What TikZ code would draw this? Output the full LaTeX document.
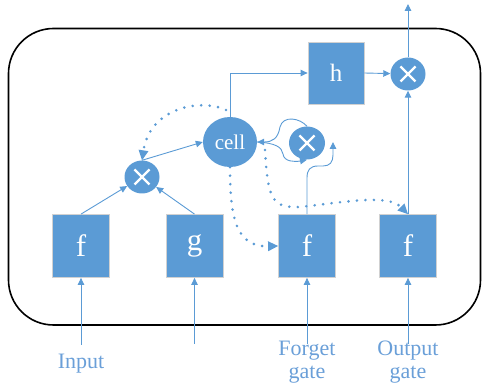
\documentclass[tikz,border=0pt]{standalone}
\usepackage{fontspec}
\setmainfont{Liberation Serif}
\usetikzlibrary{arrows.meta,shapes.geometric}
\definecolor{lblue}{HTML}{5B9BD5}
\definecolor{tblue}{HTML}{6A9FD8}
\begin{document}
\begin{tikzpicture}[x=1pt,y=-1pt,
  gatebox/.style={rectangle,fill=lblue,draw=black!18,line width=0.8pt,minimum width=57pt,minimum height=63pt,inner sep=0pt,text=white,font=\fontsize{31}{31}\selectfont},
  mult/.style={ellipse,fill=lblue,minimum width=35pt,minimum height=33pt,inner sep=0pt,
    path picture={\draw[white,line width=2.2pt] (path picture bounding box.center) ++(-7.5pt,-7.5pt) -- ++(15pt,15pt) (path picture bounding box.center) ++(-7.5pt,7.5pt) -- ++(15pt,-15pt);}},
  cellnode/.style={ellipse,fill=lblue,minimum width=54pt,minimum height=50pt,inner sep=0pt,text=white,font=\fontsize{21}{21}\selectfont},
  conn/.style={draw=lblue,line width=0.9pt,-{Triangle[length=7pt,width=6.5pt]}},
  dotc/.style={draw=lblue,line width=2.9pt,line cap=round,dash pattern=on 0pt off 8.5pt,-{Triangle[length=10pt,width=10pt,line width=0pt]}},
  lbl/.style={text=tblue,font=\fontsize{22}{23}\selectfont,align=center,inner sep=0pt,anchor=north}
]
\useasboundingbox (0,0) rectangle (483,387);
\draw[line width=1.6pt,rounded corners=45pt] (8.5,28.5) rectangle (480.5,325);

% boxes
\node[gatebox] (f1) at (81,246) {f};
\node[gatebox] (g) at (194.5,246) {g};
\node[gatebox] (ff) at (307,246) {f};
\node[gatebox] (fo) at (408,246) {f};
\node[gatebox,minimum width=56pt,minimum height=62pt,font=\fontsize{25}{25}\selectfont] (h) at (336,73) {h};
\node[mult] (m1) at (142,177) {};
\node[mult,minimum width=36pt] (m2) at (307,143) {};
\node[mult] (m3) at (408,74) {};
\node[cellnode] (cell) at (230,142) {cell};

% inputs
\coordinate (i1) at (81,345);
\coordinate (i2) at (194.5,344);
\coordinate (i3) at (307,344);
\coordinate (i4) at (408,344);
\coordinate (top) at (408,4);
\draw[conn] (i1) -- (f1);
\draw[conn] (i2) -- (g);
\draw[conn] (i3) -- (ff);
\draw[conn] (i4) -- (fo);
\node[lbl] (linput) at (81,354) {Input};
\node[lbl] (lforget) at (307,341) {Forget\\gate};
\node[lbl] (loutput) at (408,341) {Output\\gate};

% solid connectors
\draw[conn] (f1.north) -- (m1);
\draw[conn] (g.north) -- (m1);
\draw[conn] (m1.north) -- (cell.west);
\draw[conn] (cell.north) |- (h.west);
\draw[conn] (h.east) -- (m3);
\draw[conn] (m3.north) -- (top);
\draw[conn] (fo.north) -- (m3.south);
\draw[conn] (m2.north) .. controls (300,118) and (283,115) .. (280,127) .. controls (278,139) and (272,142) .. (cell.east);
\draw[conn] (cell.east) .. controls (275,143) and (282,147) .. (283,154) .. controls (284,162) and (295,162) .. (m2.south);
\coordinate (fgend) at (333,142);
\draw[conn] (ff.north) -- (307,178) .. controls (307,170) and (310,166) .. (318,166) -- (323,166) .. controls (330,166) and (333,162) .. (333,155) -- (fgend);

% dotted connectors
\coordinate (ca) at (226,110);
\coordinate (cc) at (265,150);
\draw[dotc] (ca) .. controls (200,98) and (150,108) .. (m1.north);
\draw[dotc] (cell.south) .. controls (230,218) and (236,247) .. (ff.west);
\draw[dotc] (cc) .. controls (268,200) and (272,208) .. (300,207) .. controls (345,202) and (388,194) .. (fo.north);
\end{tikzpicture}
\end{document}
